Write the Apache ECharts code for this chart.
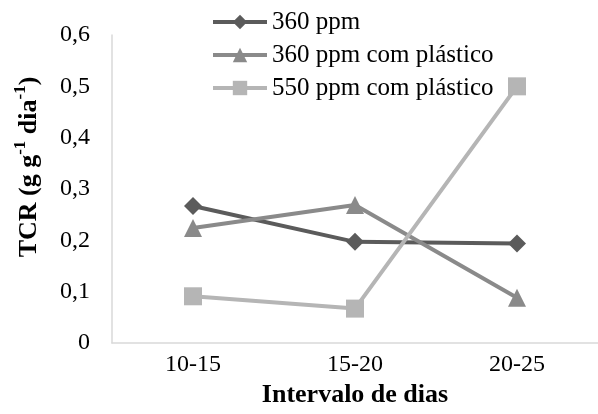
<!DOCTYPE html>
<html>
<head>
<meta charset="utf-8">
<style>
  html, body { margin: 0; padding: 0; background: #ffffff; }
  #chart { width: 598px; height: 414px; }
</style>
<script src="https://cdn.jsdelivr.net/npm/echarts@6/dist/echarts.min.js"></script>
</head>
<body>
<div id="chart"></div>
<script>
// Intervals (days) and TCR values per treatment
const categories = ['10-15', '15-20', '20-25'];
const ppm360 = [0.267, 0.197, 0.194];
const ppm360Plastico = [0.224, 0.269, 0.088];
const ppm550Plastico = [0.091, 0.067, 0.5];
const yTicks = [0, 0.1, 0.2, 0.3, 0.4, 0.5, 0.6];

const serif = 'Liberation Serif';
const chart = echarts.init(document.getElementById('chart'), null, { renderer: 'canvas' });

function lineSeries(name, data, color, symbol, size) {
  return {
    name: name,
    type: 'line',
    data: data,
    symbol: symbol,
    symbolSize: size,
    lineStyle: { color: color, width: 4 },
    itemStyle: { color: color },
    emphasis: { disabled: true },
    animation: false
  };
}

chart.setOption({
  backgroundColor: '#ffffff',
  animation: false,
  grid: { left: 112, top: 35, width: 490, height: 308 },
  legend: {
    orient: 'vertical',
    left: 206,
    top: 4,
    itemWidth: 54,
    itemHeight: 18,
    itemGap: 7,
    lineStyle: { width: 4 },
    textStyle: { fontFamily: serif, fontSize: 25, lineHeight: 26, color: '#000000' },
    data: ['360 ppm', '360 ppm com plástico', '550 ppm com plástico']
  },
  xAxis: {
    type: 'category',
    data: categories,
    boundaryGap: true,
    axisLine: { lineStyle: { color: '#d9d9d9', width: 1.5 } },
    axisTick: { show: false },
    axisLabel: { fontFamily: serif, fontSize: 24, color: '#000000', margin: 10 },
    name: 'Intervalo de dias',
    nameLocation: 'middle',
    nameGap: 33,
    nameTextStyle: { fontFamily: serif, fontSize: 26, fontWeight: 'bold', color: '#000000' }
  },
  yAxis: {
    type: 'value',
    min: 0,
    max: 0.6,
    interval: 0.1,
    axisLine: { show: true, lineStyle: { color: '#d9d9d9', width: 1.5 } },
    axisTick: { show: false },
    splitLine: { show: false },
    axisLabel: {
      fontFamily: serif, fontSize: 24, color: '#000000', margin: 22,
      formatter: function (v) {
        const t = yTicks.find(function (k) { return Math.abs(k - v) < 1e-9; });
        return t === 0 ? '0' : String(t.toFixed(1)).replace('.', ',');
      }
    },
    name: '{b|TCR (g g}{s|-1}{b| dia}{s|-1}{b|)}',
    nameLocation: 'middle',
    nameRotate: 90,
    nameGap: 70,
    nameTextStyle: {
      fontFamily: serif, fontWeight: 'bold', color: '#000000',
      padding: [0, 0, 0, 44],
      rich: {
        b: { fontFamily: serif, fontSize: 26, fontWeight: 'bold', color: '#000000', lineHeight: 30, verticalAlign: 'bottom' },
        s: { fontFamily: serif, fontSize: 17, fontWeight: 'bold', color: '#000000', lineHeight: 30, verticalAlign: 'top' }
      }
    }
  },
  series: [
    lineSeries('360 ppm', ppm360, '#5b5b5b', 'diamond', 18),
    lineSeries('360 ppm com plástico', ppm360Plastico, '#8a8a8a', 'triangle', 18),
    lineSeries('550 ppm com plástico', ppm550Plastico, '#b5b5b5', 'rect', 18)
  ]
});
</script>
</body>
</html>
